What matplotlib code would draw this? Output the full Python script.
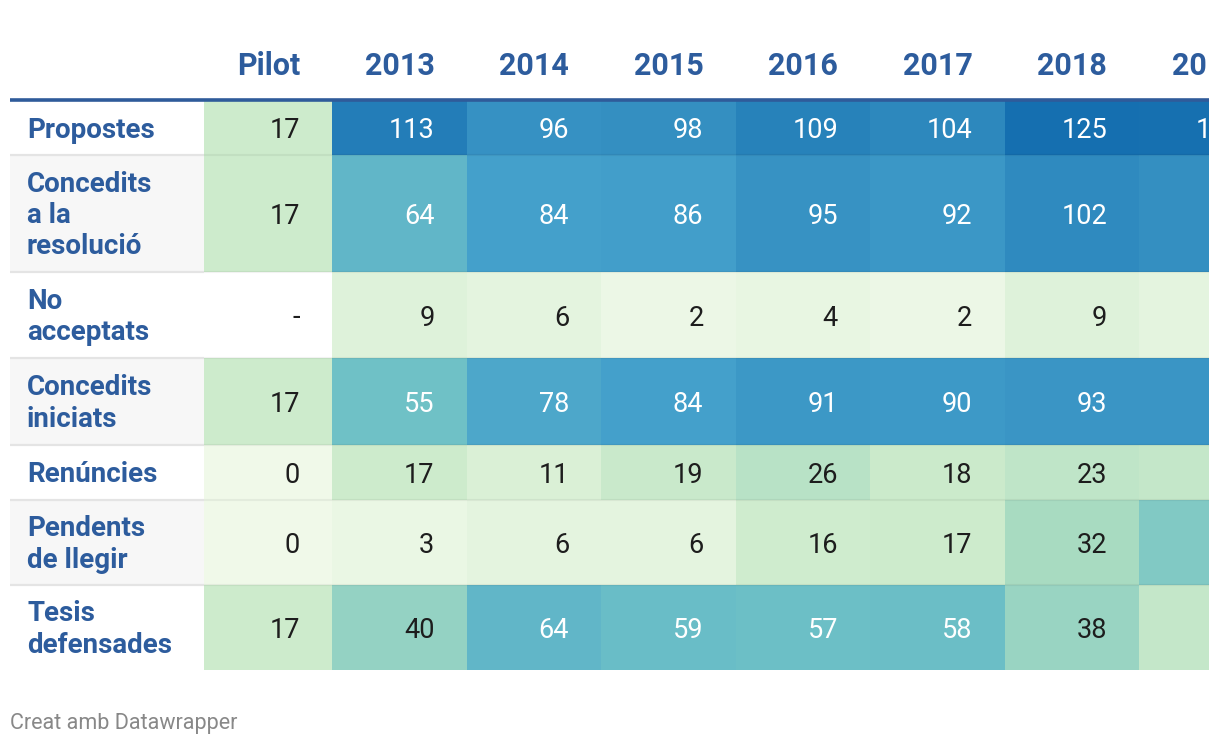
import numpy as np
import matplotlib
matplotlib.use("Agg")
import matplotlib.pyplot as plt
from matplotlib.colors import LinearSegmentedColormap, Normalize

# data
columns = ["Pilot", "2013", "2014", "2015", "2016", "2017", "2018", "2019"]
row_labels = ["Propostes", "Concedits\na la\nresolució", "No\nacceptats",
              "Concedits\niniciats", "Renúncies", "Pendents\nde llegir",
              "Tesis\ndefensades"]
propostes = [17, 113, 96, 98, 109, 104, 125, 124]
concedits = [17, 64, 84, 86, 95, 92, 102, 98]
no_acceptats = [np.nan, 9, 6, 2, 4, 2, 9, 6]
iniciats = [17, 55, 78, 84, 91, 90, 93, 93]
renuncies = [0, 17, 11, 19, 26, 18, 23, 21]
pendents = [0, 3, 6, 6, 16, 17, 32, 48]
tesis = [17, 40, 64, 59, 57, 58, 38, 21]

values = np.array([propostes, concedits, no_acceptats, iniciats,
                   renuncies, pendents, tesis], dtype=float)

# layout (pixels)
W, H = 1220, 746
clip_x = 1209
label_x0 = 10
col_x0 = 204
col_widths = [128] + [134.5] * 7
row_top = 101
row_heights = [54, 117, 86, 87, 55, 85, 85]
pad_right = 32

blue_text = "#2d5c9d"
grid_bg = ["white", "#f7f7f7"]

cmap = LinearSegmentedColormap.from_list("dw", [
    (0.0, "#f0f9e9"), (17 / 126, "#cdebcc"), (32 / 126, "#a8dbc1"),
    (55 / 126, "#6fc1c6"), (84 / 126, "#44a0cb"), (1.0, "#146eaf")])
cmap.set_bad("white")
norm = Normalize(0, 126)

plt.rcParams["font.family"] = ["Roboto", "DejaVu Sans"]

fig = plt.figure(figsize=(W / 100, H / 100), dpi=100)
ax = fig.add_axes([0, 0, clip_x / W, 1])
ax.set_xlim(0, clip_x)
ax.set_ylim(H, 0)
ax.axis("off")

xedges = col_x0 + np.concatenate([[0], np.cumsum(col_widths)])
yedges = row_top + np.concatenate([[0], np.cumsum(row_heights)])

# row label backgrounds
for i in range(len(row_labels)):
    ax.fill_between([label_x0, col_x0], yedges[i], yedges[i + 1],
                    color=grid_bg[i % 2], lw=0, zorder=0)
    if i > 0:
        ax.plot([label_x0, col_x0], [yedges[i], yedges[i]], color="#e4e4e4",
                lw=1.6, zorder=1, solid_capstyle="butt")

# heat cells
ax.pcolormesh(xedges, yedges, np.ma.masked_invalid(values), cmap=cmap,
              norm=norm, zorder=1)
for y in yedges[1:-1]:
    ax.plot([col_x0, clip_x], [y, y], color="black", alpha=0.05, lw=1.6,
            zorder=2, solid_capstyle="butt")

# header
ax.plot([label_x0, clip_x], [99.5, 99.5], color="#2f5b9a", lw=2.6,
        zorder=3, solid_capstyle="butt")
for j, c in enumerate(columns):
    ax.text(xedges[j + 1] - pad_right, 66, c, ha="right", va="center",
            fontsize=22, fontweight="bold", color=blue_text, clip_on=True)

# labels and numbers
for i, lab in enumerate(row_labels):
    yc = (yedges[i] + yedges[i + 1]) / 2
    ax.text(27, yc + 2, lab, ha="left", va="center", fontsize=20,
            fontweight="bold", color=blue_text, linespacing=1.2)
    for j in range(len(columns)):
        v = values[i, j]
        txt = "-" if np.isnan(v) else "%d" % v
        col = "white" if (not np.isnan(v) and v > 50) else "#1d1d1d"
        ax.text(xedges[j + 1] - pad_right, yc + 3, txt, ha="right",
                va="center", fontsize=19.5, color=col, clip_on=True)

fig.text(10 / W, 1 - 723 / H, "Creat amb Datawrapper", ha="left",
         va="center", fontsize=15.5, color="#888888")

fig.savefig("out.png", dpi=100)
